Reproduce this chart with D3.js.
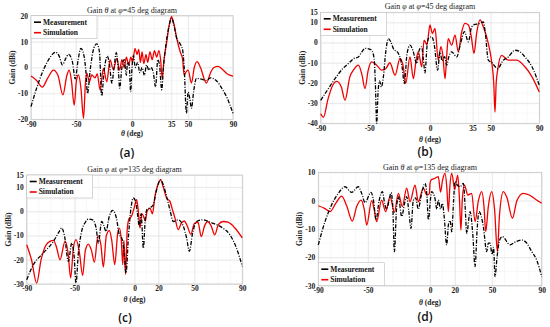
<!DOCTYPE html>
<html lang="en">
<head>
<meta charset="UTF-8">
<title>Gain patterns</title>
<style>
    body{ margin:0; background:#fff; }
    svg{ display:block; }
    .tick text{ font-family:"Liberation Serif","Times New Roman",serif; font-weight:bold; font-size:7.5px; fill:#222; }
    .title{ font-family:"Liberation Serif","Times New Roman",serif; font-size:8px; fill:#222; }
    .label{ font-family:"Liberation Serif","Times New Roman",serif; font-weight:bold; font-size:7.5px; fill:#222; }
    .legend text{ font-family:"Liberation Serif","Times New Roman",serif; font-weight:bold; font-size:7.5px; fill:#111; }
    .tag{ font-family:"Open Sans",sans-serif; font-weight:600; font-size:12px; fill:#111; }
</style>
<script src="https://cdn.jsdelivr.net/npm/d3@7"></script>
</head>
<body>
<script>
// [theta (deg), gain (dBi)]
const measA = [[-90,-15.1],[-85,-8],[-80,-2],[-75,2.5],[-70,5.5],[-68,5.9],[-65,4.5],[-62,1],[-59,3.5],[-56.5,5.1],[-53,2],[-50.6,-4.4],[-48,3],[-45.6,7.4],[-43,5],[-41,-2],[-39.7,-10],[-37,0],[-34,7.5],[-31.4,9.1],[-29,6],[-27,-11],[-25,-2],[-22,4.4],[-20,1],[-18,-6],[-16,0],[-14,5.7],[-12,-2],[-11,-8],[-9,0],[-7,3],[-5,-3],[-4,2],[-2.5,1],[-1.2,-9.3],[0,0],[1.2,4.6],[3,0],[5,2],[7,-2],[9,0],[11,-3],[13,1],[15,-1],[17,0],[19,-2],[21,-7.5],[23,3],[24.5,1],[26.5,-8.6],[28,0],[30,8],[33,16],[35.2,19],[37,17],[40,11],[42.6,9.3],[45,7],[46.5,0],[48.5,-17.7],[50,-9.5],[51.5,-12],[53,-15.7],[55,-9],[57.4,-4.2],[62,-4.5],[66,-5],[70,-4],[75,-5],[80,-8],[85,-12],[90,-17.7]];
const simA = [[-90,-3.3],[-85,-5],[-80,-7.6],[-75,-4],[-70,-1],[-66,-3],[-61.6,-10.6],[-58,-3],[-56,-1],[-54,-5],[-51.5,-14.6],[-49.5,-5],[-47.7,-2.9],[-45.5,-8],[-43.2,-19.6],[-41.5,-6],[-40.3,-2.2],[-38,-5.5],[-35.8,-2.9],[-33,-4],[-31,-2.5],[-28.4,-8.7],[-25.5,-0.3],[-22.5,-5.5],[-19.5,2.9],[-16.6,-0.9],[-13.6,3.5],[-11,-1],[-9,3],[-7,0],[-5,4],[-3,1],[-1,4],[0.5,2],[2.7,7.4],[4.5,5],[6,7],[7.5,2],[9,6],[10.5,1.5],[12.5,5],[14,2],[16,6],[18,3],[20,6.5],[22,4],[24,6.5],[25.5,3],[26.9,-4.2],[28.5,3],[31,10],[33,16],[35.2,19.6],[37,17.5],[40,11],[43,6],[45,3.5],[46.5,-2.9],[48.5,-1.5],[50,-1],[53,-6],[55.5,0],[58,2.3],[61,0],[66.3,-6],[70,-2],[73,0],[76.7,0.4],[80,-0.5],[85,-2.5],[90,-3.3]];
const measB = [[-90,-28.6],[-85,-24],[-78.2,-17.9],[-72,-13],[-67.2,-10.4],[-63,-8],[-59,-7.1],[-56,-4.5],[-53.5,-2.9],[-50,-3.2],[-48,-3.8],[-46,-8],[-45,-20],[-43.9,-40],[-42.8,-25],[-41.5,-19],[-40,-22],[-38.4,-17],[-36.5,-5],[-34.3,2],[-32,0],[-30.2,-2.9],[-26,-5.4],[-23,-12],[-21.1,-20.3],[-19,-6],[-16.5,-1.3],[-14,-4],[-11,-10.4],[-9,-4],[-6.9,-2.1],[-5.5,-8],[-4.1,-15],[-2.5,-2],[-1.4,2],[1.4,2.9],[3.5,-1],[6.3,-13.7],[8.2,-4.6],[10,-9],[12,-7],[13.7,-11.2],[15.5,-7],[17.8,-4.6],[22,-7.1],[25,-1],[28.3,5.4],[31.6,0.4],[34.3,7.8],[37,9],[39.8,9.2],[43.9,10.3],[45.5,5],[48,-8.7],[51,-10],[55.7,-12.9],[60,-9],[64.5,-7.1],[70,-3.8],[74,-4.5],[78.2,-7.1],[84,-12],[90,-21.2]];
const simB = [[-90,-35.3],[-87.8,-37],[-84,-28],[-80,-21],[-76.8,-19.2],[-73,-22],[-70,-28.6],[-66,-17],[-63.1,-13.7],[-59,-11.2],[-56,-16],[-53.5,-22.8],[-51,-14],[-48,-9.6],[-43.9,-11.2],[-39.8,-13.7],[-36.5,-13],[-33,-10],[-28.8,-16.2],[-24.7,-7.9],[-22,-12],[-20,-20.3],[-16.5,-7.1],[-13.7,-17.9],[-11.5,-9],[-9.6,-4.6],[-6.8,-12],[-4.9,1.2],[-2.5,-1],[0,8.7],[1.9,4.5],[4.1,7],[6.8,-8.7],[9,-2],[10.5,-6],[12.4,-17.9],[13.8,-6],[15,2],[17.8,-1.3],[20.6,3.7],[23.3,-4.6],[26,5],[28.8,9.5],[31.6,8.7],[34,3],[36.2,-5.4],[38.5,5],[41.2,11.2],[43.9,7.8],[48,-0.4],[50.8,-9.6],[52.5,-20],[53.5,-34.4],[54.5,-20],[55.7,-13.7],[59,-6.3],[64.5,-8.7],[71.3,-8.7],[78.2,-12],[84,-17],[90,-24.5]];
const measC = [[-90,-28.2],[-84.4,-22],[-76.1,-17.2],[-67.7,-12.4],[-63,-8.5],[-60.8,-6.9],[-58.5,-10],[-55.2,-20.7],[-52.4,-13.1],[-50.5,-18],[-48.8,-29.6],[-47,-18],[-44,-8],[-41,-4.5],[-38.5,-3.2],[-35,-3.5],[-32,-7],[-30.2,-13.1],[-27.4,-4.2],[-25.5,-6],[-23.8,-8.3],[-21,-2],[-18.2,0.4],[-15,-3],[-13,-9],[-10,-12],[-8.5,-18],[-7.1,-25.5],[-5,-10],[-3,1],[-1,5.5],[1,4],[2.4,-0.7],[4,-6.2],[5.5,-1],[7.4,-15.2],[9,-3],[10.2,0.6],[13,1.5],[15.7,2.7],[18,8],[21.8,13],[24,11],[26.8,6.1],[29.6,0.6],[32.4,-4.2],[36.5,-3.5],[40.8,-6.2],[43.5,-11],[45.8,-16.5],[48.5,-9],[51.9,-4.2],[57.5,-3.5],[63,-4.5],[68.6,-5.5],[74,-7],[79.7,-9.7],[85,-15],[90,-22.7]];
const simC = [[-90,-13.8],[-86,-20],[-81.7,-29.6],[-78,-20],[-74,-14],[-70.5,-12.4],[-67.7,-12],[-65,-15],[-62.2,-20],[-58,-12.4],[-55.5,-17],[-53.3,-27.5],[-51,-15],[-48.8,-11.7],[-46,-17],[-43.3,-26.5],[-41,-16],[-38.5,-13.5],[-36,-16],[-33.5,-21],[-30.5,-10],[-28,-14],[-26,-23],[-23.5,-10],[-21,-8],[-19,-12],[-16.5,-22],[-14,-9],[-12.5,-7],[-11,-12],[-9.8,-22],[-8.8,-12],[-7.5,-26],[-6,-7],[-4.5,-3],[-2.5,-2],[-0.5,1],[1.8,4.8],[3.2,0],[4.6,-6.9],[6,-1],[7.5,-2],[9,-4],[10.5,0],[12.9,1.3],[15,-1],[17,6],[19.5,11],[21.8,13],[24,10],[26.8,5.5],[29.6,4.1],[31.5,1],[33.8,-2.8],[36.5,-7.6],[39,-5],[41.5,-4],[44,-6],[47,-9.5],[50,-5],[53,-4.5],[55.7,-10.4],[58.5,-6],[61,-4.2],[64,-6],[67,-9.7],[70,-5.5],[74,-4.2],[78,-4.5],[84,-7],[90,-11]];
const measD = [[-90,-15.6],[-84.6,-7.4],[-79.3,-1.5],[-74,2.5],[-68.5,4.9],[-63.1,2.9],[-57.8,4.9],[-55,2.5],[-52.4,-0.7],[-47.6,2.9],[-45.5,0],[-43.5,-6.8],[-41,0],[-38.4,3.2],[-36.5,-1],[-35,-3],[-33,0],[-31.4,2.8],[-30,-2],[-28.7,-18],[-27,-3],[-25.5,1.5],[-22.8,-5.6],[-20.5,-1],[-18.8,1.4],[-17,-4],[-15.3,-9.8],[-13.5,0],[-11.5,1],[-9.5,-3],[-7,2],[-4,6.1],[-2.5,2],[-1.3,-6.8],[0.5,1],[1.3,3.2],[4,0.8],[5.5,-3],[6.7,0.2],[8.5,-3],[10,-1],[11.5,-6],[13.4,-15.6],[15,-8],[16.2,-7],[17.5,-11],[19,0],[20.1,6.7],[22,5.5],[24.2,4.9],[26.9,6.1],[28.3,-2],[29.6,-11.5],[32.3,-3.9],[34.5,-12],[36.3,-23.3],[38,-10],[39.5,-3.9],[43,-9.2],[45.7,-18],[47,-15],[48.4,-15],[50,-19],[51.2,-16.5],[52.4,-26.8],[54,-20],[56,-14],[58.3,-12.7],[64.5,-15.6],[69,-14.5],[73.9,-13.9],[78,-15],[82,-18],[86,-21],[90,-26.8]];
const simD = [[-90,-1.8],[-85,-2.7],[-80.6,-3.9],[-76,-1],[-71.2,1.6],[-67,-2],[-62.6,-7.2],[-59,-2],[-55.6,0.2],[-53,-3],[-51,-8.6],[-47,0],[-45,-3],[-43,-7.4],[-39,0.2],[-35.7,-3.9],[-32.2,1.4],[-28.7,-4.1],[-25.5,2.6],[-22.3,-2.1],[-18.8,4.4],[-16.1,-0.4],[-12.1,5.5],[-9.4,-0.4],[-5.4,4.4],[-2.5,2],[-0.5,2.5],[0,5.9],[0.8,7.3],[4,7.9],[6.7,8.5],[8.5,3],[10,7],[12.1,9.6],[13.5,5],[14.8,-3.9],[16,5],[17.5,9.6],[20,4],[22.3,9],[23.8,0],[24.9,-10.4],[26,0],[27.7,5.5],[30.5,2],[33.6,2.6],[36.3,-7.4],[39,0],[41.7,3.2],[43.5,-2],[44.9,-10.9],[47,-2],[49.7,3.2],[52,-3],[54.3,-18],[56,-5],[59.1,3.2],[62,1],[66.4,-6.2],[70,0],[75.1,2.6],[80,2],[85,0.5],[90,-0.9]];

const xTicksAB = [-90,-50,0,35,50,90];
const xTicksCD = [-90,-50,0,20,50,90];
const yTicksA = [-20,-10,0,10,20];
const yTicksB = [-40,-30,-20,-10,0,10,15];
const yTicksC = [-30,-20,-10,0,10,15];
const yTicksD = [-30,-20,-10,0,10];
const seriesNames = ["Measurement","Simulation"];
const tags = ["(a)","(b)","(c)","(d)"];

const width = 550, height = 327;
const svg = d3.select("body").append("svg")
    .attr("width", width).attr("height", height)
    .attr("viewBox", `0 0 ${width} ${height}`);

const panels = [
    {meas:measA, sim:simA, xt:xTicksAB, yt:yTicksA, yd:[-20,20], x:[31,233], y:[15.7,119.3],
     g1:"θ", phi:"45", tag:tags[0], tagX:127, tagY:157, titleY:13, xlY:136, legTop:true},
    {meas:measB, sim:simB, xt:xTicksAB, yt:yTicksB, yd:[-40,15], x:[320.7,539.3], y:[12.3,123.3],
     g1:"φ", phi:"45", tag:tags[1], tagX:425, tagY:156, titleY:9, xlY:141.5, legTop:true},
    {meas:measC, sim:simC, xt:xTicksCD, yt:yTicksC, yd:[-30,15], x:[26.7,242.3], y:[175,284],
     g1:"φ", phi:"135", tag:tags[2], tagX:125, tagY:322, titleY:172, xlY:301.5, legTop:true},
    {meas:measD, sim:simD, xt:xTicksCD, yt:yTicksD, yd:[-30,10], x:[318.3,541.7], y:[172.3,285.7],
     g1:"θ", phi:"135", tag:tags[3], tagX:425, tagY:321, titleY:170, xlY:305, legTop:false}
];

panels.forEach(p => {
    const xScale = d3.scaleLinear().domain([-90,90]).range(p.x);
    const yScale = d3.scaleLinear().domain(p.yd).range([p.y[1], p.y[0]]);
    const g = svg.append("g");

    // minor grid
    g.append("g").selectAll("line")
        .data(d3.range(-90, 91, 10)).join("line")
        .attr("x1", d=>xScale(d)).attr("x2", d=>xScale(d))
        .attr("y1", p.y[0]).attr("y2", p.y[1])
        .attr("stroke", "#f0f0f0").attr("stroke-width", 0.5);
    g.append("g").selectAll("line")
        .data(d3.range(p.yd[0], p.yd[1]+0.1, 5)).join("line")
        .attr("x1", p.x[0]).attr("x2", p.x[1])
        .attr("y1", d=>yScale(d)).attr("y2", d=>yScale(d))
        .attr("stroke", "#f0f0f0").attr("stroke-width", 0.5);

    // axes with major grid
    const xAxis = d3.axisBottom(xScale).tickValues(p.xt).tickSize(-(p.y[1]-p.y[0])).tickPadding(2);
    const yAxis = d3.axisLeft(yScale).tickValues(p.yt).tickSize(-(p.x[1]-p.x[0])).tickPadding(3);
    const gx = g.append("g").attr("transform", `translate(0,${p.y[1]})`).call(xAxis);
    const gy = g.append("g").attr("transform", `translate(${p.x[0]},0)`).call(yAxis);
    [gx, gy].forEach(a => {
        a.select(".domain").remove();
        a.selectAll(".tick line").attr("stroke", "#dedede").attr("stroke-width", 0.6);
        a.selectAll(".tick text").text(d => d < 0 ? "-" + Math.abs(d) : d);
    });

    g.append("rect")
        .attr("x", p.x[0]).attr("y", p.y[0])
        .attr("width", p.x[1]-p.x[0]).attr("height", p.y[1]-p.y[0])
        .attr("fill", "none").attr("stroke", "#c4c4c4").attr("stroke-width", 0.7);

    const line = d3.line()
        .x(d => xScale(d[0])).y(d => yScale(Math.max(d[1], p.yd[0])))
        .curve(d3.curveMonotoneX);

    g.append("path").datum(p.sim).attr("d", line)
        .attr("fill", "none").attr("stroke", "#f00000").attr("stroke-width", 1.3);
    g.append("path").datum(p.meas).attr("d", line)
        .attr("fill", "none").attr("stroke", "#000").attr("stroke-width", 1.3)
        .attr("stroke-dasharray", "4,1.5,1,1.5");

    // title
    const cx = (p.x[0]+p.x[1])/2;
    const t = g.append("text").attr("class","title")
        .attr("x", cx).attr("y", p.titleY).attr("text-anchor","middle");
    t.append("tspan").text("Gain ");
    t.append("tspan").attr("font-style","italic").text(p.g1);
    t.append("tspan").text(" at ");
    t.append("tspan").attr("font-style","italic").text("φ");
    t.append("tspan").text(`=${p.phi} deg diagram`);

    // axis labels
    const xl = g.append("text").attr("class","label")
        .attr("x", cx).attr("y", p.xlY).attr("text-anchor","middle");
    xl.append("tspan").attr("font-style","italic").text("θ");
    xl.append("tspan").text(" (deg)");
    g.append("text").attr("class","label")
        .attr("transform", `translate(${p.x[0]-16},${(p.y[0]+p.y[1])/2}) rotate(-90)`)
        .attr("text-anchor","middle").text("Gain (dBi)");

    // legend
    const lw = 66, lh = 23;
    const ly = p.legTop ? p.y[0] : p.y[1]-lh;
    const leg = g.append("g").attr("class","legend").attr("transform", `translate(${p.x[0]},${ly})`);
    leg.append("rect").attr("width", lw).attr("height", lh)
        .attr("fill","#fff").attr("stroke","#bdbdbd").attr("stroke-width",0.6);
    const items = leg.selectAll("g.item").data(seriesNames).join("g")
        .attr("class","item").attr("transform", (d,i)=>`translate(3,${6.5+i*10.5})`);
    items.append("line").attr("x1",0).attr("x2",7)
        .attr("stroke",(d,i)=> i===0 ? "#000" : "#f00000").attr("stroke-width",1.6);
    items.append("text").attr("x",9).attr("dy","0.33em").text(d=>d);

    // panel tag
    g.append("text").attr("class","tag")
        .attr("x", p.tagX).attr("y", p.tagY).attr("text-anchor","middle").text(p.tag);
});
</script>
</body>
</html>
